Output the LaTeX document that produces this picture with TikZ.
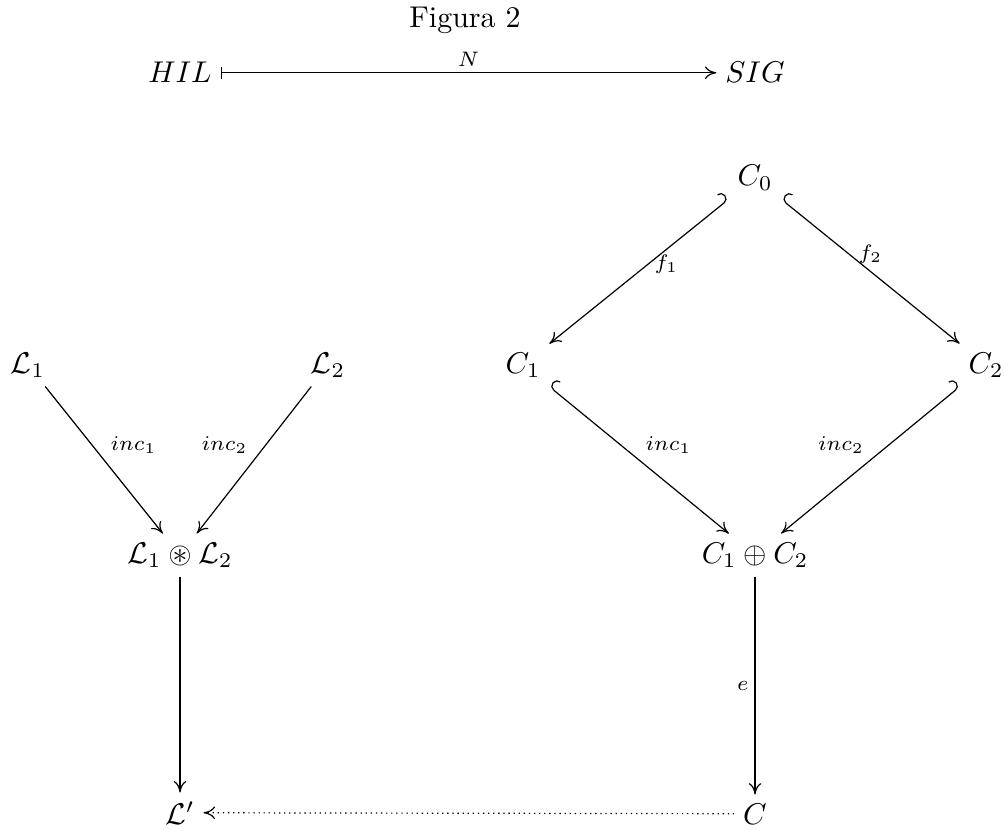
\documentclass[tikz,border=0pt]{standalone}
\usepackage{amsmath,amssymb}
\usetikzlibrary{arrows.meta}
\begin{document}
\begin{tikzpicture}[x=0.3333pt,y=-0.3333pt,
  obj/.style={inner sep=2.8pt, anchor=base},
  lab/.style={inner sep=2pt},
  tipcm/.tip={Computer Modern Rightarrow[length=3.8pt,width=4.2pt]},
  cd/.style={line width=0.4pt, -tipcm},
  hkR/.style={{Hooks[left,length=1.9pt,width=7.4pt]}-tipcm},
  hkL/.style={{Hooks[right,length=1.9pt,width=7.4pt]}-tipcm},
  barto/.style={{Bar[width=4pt]}-tipcm},
  dotline/.style={dash pattern=on 0.45pt off 1.25pt}
]
\useasboundingbox (0,0) rectangle (1005,829);

\node[obj] (fig) at (465,28) {Figura 2};
\node[obj] (hil) at (180,83) {$HIL$};
\node[obj] (sig) at (755,83) {$SIG$};

\node[obj] (c0) at (755,186) {$C_0$};
\node[obj] (c1) at (523,373) {$C_1$};
\node[obj] (c2) at (986,373) {$C_2$};
\node[obj] (l1) at (28,373) {$\mathcal{L}_1$};
\node[obj] (l2) at (328,373) {$\mathcal{L}_2$};
\node[obj] (ls) at (180,563) {$\mathcal{L}_1\circledast\mathcal{L}_2$};
\node[obj] (cs) at (755,563) {$C_1\oplus C_2$};
\node[obj] (lp) at (180,824) {$\mathcal{L}'$};
\node[obj] (c) at (755,824) {$C$};

\draw[cd, barto] (hil) -- node[lab, auto] {$\scriptstyle N$} (sig);

\draw[cd, hkR] (c0) -- node[lab, pos=0.45, anchor=west] {$\scriptstyle f_1$} (c1);
\draw[cd, hkL] (c0) -- node[lab, pos=0.38, anchor=west, inner sep=3pt] {$\scriptstyle f_2$} (c2);
\draw[cd, hkL] (c1) -- node[lab, auto] {$\scriptstyle inc_1$} (cs);
\draw[cd, hkR] (c2) -- node[lab, auto=right] {$\scriptstyle inc_2$} (cs);

\draw[cd] (l1) -- node[lab, auto] {$\scriptstyle inc_1$} (ls);
\draw[cd] (l2) -- node[lab, auto=right] {$\scriptstyle inc_2$} (ls);

\draw[cd] (ls) -- (lp);
\draw[cd] (cs) -- node[lab, auto=right] {$\scriptstyle e$} (c);
\draw[cd, dotline] (c) -- (lp);
\end{tikzpicture}
\end{document}
